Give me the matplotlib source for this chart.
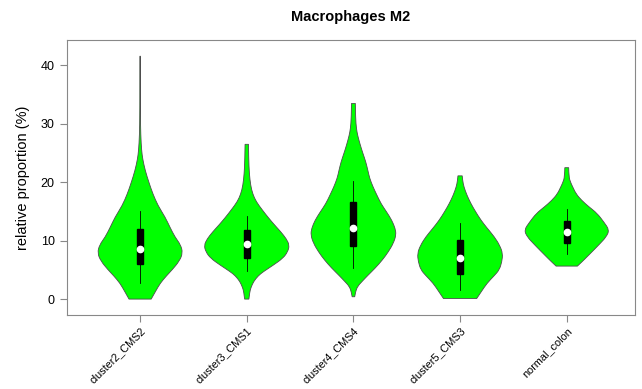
import numpy as np
import matplotlib
matplotlib.use("Agg")
import matplotlib.pyplot as plt
from matplotlib.path import Path
from matplotlib.patches import PathPatch

plt.rcParams["font.family"] = ["Liberation Sans", "DejaVu Sans"]

# groups and box statistics (whisker low, q1, median, q3, whisker high)
groups = ["cluster2_CMS2", "cluster3_CMS1", "cluster4_CMS4", "cluster5_CMS3", "normal_colon"]
whisk_lo = [2.7, 4.8, 5.4, 1.5, 7.7]
q1 = [6.0, 7.1, 9.1, 4.3, 9.6]
median = [8.6, 9.4, 12.1, 7.0, 11.5]
q3 = [12.0, 11.8, 16.6, 10.1, 13.4]
whisk_hi = [15.1, 14.2, 20.2, 13.1, 15.4]

# violin outlines: value levels and relative half-widths
v1_y = [0.0, 1.3, 2.7, 4.0, 5.0, 6.5, 7.9, 9.3, 10.6, 12.3, 14.0, 16.0, 18.0, 19.9, 22.0, 24.0, 25.5, 28.0, 32.0, 41.6]
v1_w = [0.26, 0.36, 0.47, 0.62, 0.75, 0.92, 1.0, 0.95, 0.82, 0.70, 0.59, 0.42, 0.30, 0.21, 0.12, 0.06, 0.035, 0.015, 0.006, 0.003]
v2_y = [0.0, 1.25, 2.0, 3.0, 4.0, 4.7, 5.8, 7.0, 8.1, 9.2, 10.3, 11.5, 12.7, 13.9, 15.3, 16.7, 18.0, 19.5, 21.5, 24.0, 26.5]
v2_w = [0.05, 0.07, 0.10, 0.16, 0.27, 0.39, 0.62, 0.85, 0.96, 1.0, 0.93, 0.80, 0.65, 0.51, 0.36, 0.22, 0.14, 0.09, 0.06, 0.045, 0.04]
v3_y = [0.4, 1.3, 2.2, 3.0, 4.0, 5.3, 6.7, 8.1, 9.6, 11.0, 12.1, 13.5, 14.9, 16.3, 17.8, 19.2, 20.7, 22.0, 23.5, 25.0, 26.4, 28.0, 29.2, 31.0, 33.5]
v3_w = [0.03, 0.05, 0.10, 0.20, 0.33, 0.51, 0.68, 0.82, 0.94, 1.0, 0.98, 0.90, 0.78, 0.65, 0.55, 0.46, 0.38, 0.34, 0.29, 0.22, 0.16, 0.10, 0.07, 0.05, 0.045]
v4_y = [0.1, 1.3, 2.7, 4.0, 5.0, 6.4, 7.8, 9.2, 10.7, 12.1, 13.5, 15.0, 16.4, 17.8, 19.2, 20.3, 21.1]
v4_w = [0.39, 0.50, 0.63, 0.80, 0.92, 0.98, 1.0, 0.93, 0.80, 0.64, 0.49, 0.36, 0.25, 0.16, 0.09, 0.06, 0.05]
v5_y = [5.65, 6.4, 7.2, 8.3, 9.5, 10.6, 11.8, 13.2, 14.7, 15.8, 16.9, 18.0, 19.2, 20.0, 20.9, 22.5]
v5_w = [0.25, 0.36, 0.47, 0.62, 0.78, 0.92, 1.0, 0.87, 0.71, 0.52, 0.35, 0.22, 0.14, 0.09, 0.05, 0.045]

profiles = [(v1_y, v1_w), (v2_y, v2_w), (v3_y, v3_w), (v4_y, v4_w), (v5_y, v5_w)]


def smooth_side(pts):
    # quadratic bezier through midpoints, keeps first and last point
    verts = [pts[0]]; codes = []
    for k in range(1, len(pts) - 1):
        mid = ((pts[k][0] + pts[k + 1][0]) / 2, (pts[k][1] + pts[k + 1][1]) / 2)
        if k == len(pts) - 2:
            mid = pts[-1]
        verts += [pts[k], mid]; codes += [Path.CURVE3, Path.CURVE3]
    return verts, codes


def violin_path(x, ys, hw):
    right = [(x + w, y) for y, w in zip(ys, hw)]
    left = [(x - w, y) for y, w in zip(ys[::-1], hw[::-1])]
    rv, rc = smooth_side(right)
    lv, lc = smooth_side(left)
    verts = rv + lv + [rv[0]]
    codes = [Path.MOVETO] + rc + [Path.LINETO] + lc + [Path.CLOSEPOLY]
    return Path(verts, codes)


fig = plt.figure(figsize=(6.42, 3.89), dpi=100)
ax = fig.add_axes([0.1036, 0.190, 0.8855, 0.707])

for i, (ys, ws) in enumerate(profiles):
    x = i + 1
    hw = [w * 0.4 for w in ws]
    ax.add_patch(PathPatch(violin_path(x, ys, hw), facecolor="#00ff00",
                           edgecolor="#4d4d4d", linewidth=0.6, zorder=2))
    ax.plot([x, x], [whisk_lo[i], whisk_hi[i]], color="black", lw=0.6, zorder=3)
    ax.add_patch(plt.Rectangle((x - 0.028, q1[i]), 0.056, q3[i] - q1[i],
                               facecolor="black", edgecolor="black", zorder=4))
    ax.plot(x, median[i], "o", color="white", ms=4.5, mec="white", zorder=5)

ax.set_xlim(0.31, 5.64)
ax.set_ylim(-2.74, 44.35)
ax.set_yticks([0, 10, 20, 30, 40])
ax.set_xticks(range(1, 6))
ax.set_xticklabels(groups, rotation=45, ha="right", rotation_mode="anchor", fontsize=7.8)
ax.tick_params(axis="y", labelsize=9, color="#888888", length=5, pad=3.5)
ax.tick_params(axis="x", color="#888888", length=5, pad=2.5)
for s in ax.spines.values():
    s.set_color("#888888")
ax.set_ylabel("relative proportion (%)", fontsize=10.5, labelpad=8)
ax.set_title("Macrophages M2", fontsize=10.5, fontweight="bold", pad=14)

fig.savefig("out.png", dpi=100)
